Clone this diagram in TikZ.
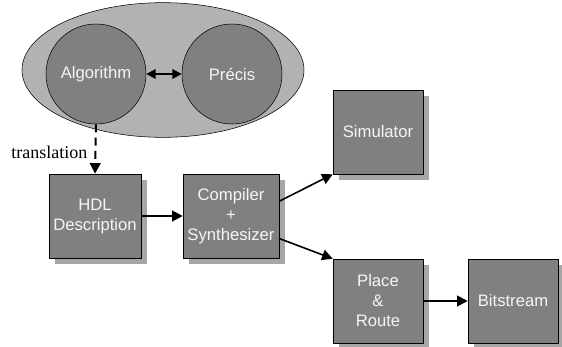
\documentclass[tikz,border=0pt]{standalone}
\usepackage{fontspec}
\setmainfont{Liberation Sans}
\newfontfamily\serifface{Liberation Serif}
\usepackage{xcolor}
\usetikzlibrary{shapes,arrows.meta,positioning,shadows}

\begin{document}
\begin{tikzpicture}[
    x=0.75pt, y=-0.75pt,
    flowbox/.style={draw, fill=black!50, text=gray!8,
        minimum width=67.5pt, minimum height=63pt, align=center,
        font=\fontsize{12.5}{15}\selectfont,
        drop shadow={shadow xshift=4.5pt, shadow yshift=-4.5pt, fill=black!35, opacity=1}},
    blob/.style={draw, circle, fill=black!50, text=gray!8, minimum size=75pt,
        font=\fontsize{12.5}{15}\selectfont},
    flow/.style={line width=1.5pt, -{Triangle[length=8pt,width=8pt]}},
]
    \useasboundingbox (0,0) rectangle (562,347);

    % outer group
    \node[draw, ellipse, fill=black!30, minimum width=211.5pt, minimum height=101pt] (grp) at (163,70) {};
    \node[blob] (alg) at (96,74) {Algorithm};
    \node[blob] (precis) at (232,74) {Précis};

    \node[flowbox] (hdl) at (95,216) {HDL\\Description};
    \node[flowbox] (comp) at (231,216) {Compiler\\+\\Synthesizer};
    \node[flowbox] (sim) at (378,132) {Simulator};
    \node[flowbox] (pnr) at (378,301) {Place\\\&\\Route};
    \node[flowbox] (bits) at (513,301) {Bitstream};

    \draw[line width=1.5pt, {Triangle[length=7pt,width=7pt]}-{Triangle[length=7pt,width=7pt]}] (alg) -- (precis);
    \draw[flow, dashed, dash pattern=on 6pt off 4pt] (alg.south) -- (hdl.north);
    \node[anchor=east, font=\serifface\fontsize{13.5}{15}\selectfont] (trans) at (92,152) {translation};

    \draw[flow] (hdl) -- (comp);
    \draw[flow, line width=1.2pt] (comp.17) -- (sim.south west);
    \draw[flow, line width=1.2pt] (comp.-25) -- (pnr.north west);
    \draw[flow] (pnr) -- (bits);
\end{tikzpicture}
\end{document}
